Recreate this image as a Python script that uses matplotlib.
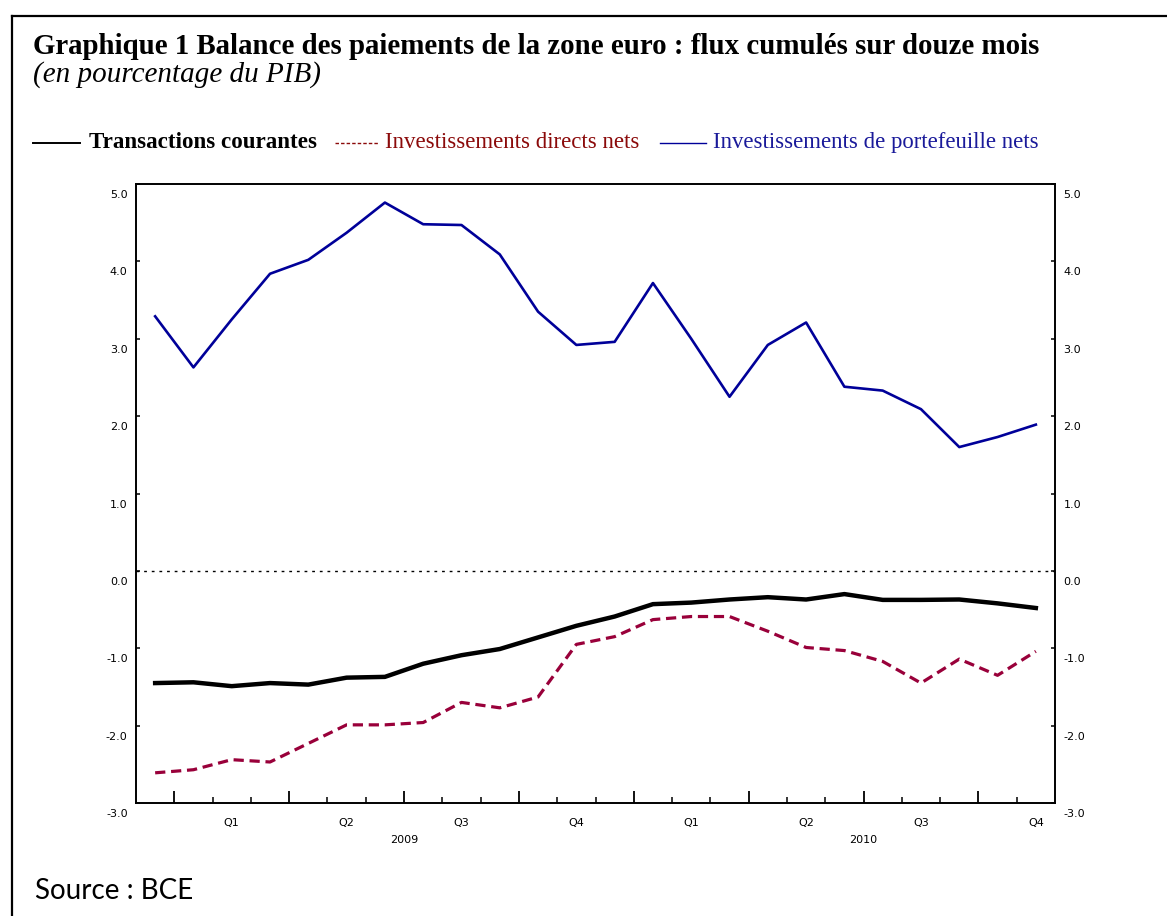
import matplotlib
matplotlib.use("Agg")
import matplotlib.pyplot as plt
from matplotlib.lines import Line2D
from matplotlib.transforms import ScaledTranslation
import numpy as np

# ---------------- data ----------------
months = ["2008-12", "2009-01", "2009-02", "2009-03", "2009-04", "2009-05",
          "2009-06", "2009-07", "2009-08", "2009-09", "2009-10", "2009-11",
          "2009-12", "2010-01", "2010-02", "2010-03", "2010-04", "2010-05",
          "2010-06", "2010-07", "2010-08", "2010-09", "2010-10", "2010-11"]

transactions_courantes = [-1.45, -1.44, -1.49, -1.45, -1.47, -1.38, -1.37, -1.20,
                          -1.09, -1.01, -0.86, -0.71, -0.59, -0.43, -0.41, -0.37,
                          -0.34, -0.37, -0.30, -0.375, -0.375, -0.37, -0.42, -0.48]

investissements_directs = [-2.61, -2.57, -2.44, -2.47, -2.23, -1.99, -1.99, -1.96,
                           -1.70, -1.77, -1.63, -0.95, -0.85, -0.63, -0.59, -0.59,
                           -0.78, -0.99, -1.03, -1.17, -1.45, -1.14, -1.35, -1.04]

investissements_portefeuille = [3.29, 2.63, 3.25, 3.84, 4.02, 4.37, 4.76, 4.48,
                                4.47, 4.09, 3.35, 2.92, 2.96, 3.72, 3.00, 2.25,
                                2.92, 3.21, 2.38, 2.33, 2.09, 1.60, 1.73, 1.89]

quarter_labels = ["Q1", "Q2", "Q3", "Q4", "Q1", "Q2", "Q3", "Q4"]
year_labels = ["2009", "2010"]
y_ticks = [-3.0, -2.0, -1.0, 0.0, 1.0, 2.0, 3.0, 4.0, 5.0]

title = "Graphique 1 Balance des paiements de la zone euro : flux cumulés sur douze mois"
subtitle = "(en pourcentage du PIB)"
legend_labels = ["Transactions courantes", "Investissements directs nets",
                 "Investissements de portefeuille nets"]
source = "Source : BCE"

# ---------------- figure ----------------
W, H = 1167, 916
fig = plt.figure(figsize=(W / 100, H / 100), dpi=100)
fig.patch.set_facecolor("white")

def fx(px):
    return px / W

def fy(py):
    return 1 - py / H

BLACK = "#000000"
RED = "#99003a"
RED_TXT = "#8b0a0a"
BLUE = "#000099"
BLUE_TXT = "#1a1a9a"

# frame (left and top)
fig.add_artist(Line2D([fx(12), fx(12)], [0, fy(16)], color="black", lw=1.6))
fig.add_artist(Line2D([fx(12), 1], [fy(16), fy(16)], color="black", lw=1.6))

ax = fig.add_axes([fx(136), fy(803), fx(1055) - fx(136), fy(184) - fy(803)])

n = len(months)
x = np.arange(n) + 0.5

ax.plot(x, investissements_portefeuille, color=BLUE, lw=1.9)
ax.plot(x, investissements_directs, color=RED, lw=2.3, dashes=(3.2, 1.8))
ax.plot(x, transactions_courantes, color=BLACK, lw=3.2)
ax.axhline(0, color="black", lw=1.0, dashes=(2, 3.5))

ax.set_xlim(0, n)
ax.set_ylim(-3, 5)

# x ticks: quarter boundaries (major) and months (minor)
ax.set_xticks(np.arange(1, n, 3))
ax.set_xticks(np.arange(1, n), minor=True)
ax.tick_params(axis="x", which="major", direction="in", length=9, width=1.3,
               labelbottom=False)
ax.tick_params(axis="x", which="minor", direction="in", length=4, width=1.1)

# y ticks on both sides
ax.set_yticks(y_ticks)
ax.set_yticklabels([f"{v:.1f}" for v in y_ticks])
ax.tick_params(axis="y", which="both", direction="in", length=3, width=1.1,
               left=True, right=True, labelleft=True, labelright=True,
               labelsize=8, pad=6)
for lab in ax.get_yticklabels() + ax.yaxis.get_ticklabels(which="major"):
    pass
for t in ax.yaxis.get_major_ticks():
    for lab in (t.label1, t.label2):
        lab.set_transform(lab.get_transform() + ScaledTranslation(0, -0.10, fig.dpi_scale_trans))

for s in ax.spines.values():
    s.set_linewidth(1.4)

# quarter & year labels
qcenters = np.arange(2.5, n, 3)
for xc, q in zip(qcenters, quarter_labels):
    ax.text(xc, -0.025, q, transform=ax.get_xaxis_transform(), ha="center", va="top",
            fontsize=8, family="DejaVu Sans")
ycenters = [7, 19]
for xc, yl in zip(ycenters, year_labels):
    ax.text(xc, -0.052, yl, transform=ax.get_xaxis_transform(), ha="center", va="top",
            fontsize=8, family="DejaVu Sans")

# ---------------- texts ----------------
serif = "Liberation Serif"
t_title = fig.text(fx(33), fy(54), title, family=serif, weight="bold", fontsize=20,
                   ha="left", va="baseline")
t_sub = fig.text(fx(33), fy(82), subtitle, family=serif, style="italic", fontsize=17,
                 ha="left", va="baseline")

leg_y = 148
fig.add_artist(Line2D([fx(33), fx(80)], [fy(143), fy(143)], color=BLACK, lw=1.4))
t_l1 = fig.text(fx(89), fy(leg_y), legend_labels[0], family=serif, weight="bold",
                fontsize=14, ha="left", va="baseline", color=BLACK)
fig.add_artist(Line2D([fx(335), fx(379)], [fy(143), fy(143)], color=RED_TXT, lw=1.0,
                      dashes=(2.5, 1.5)))
t_l2 = fig.text(fx(385), fy(leg_y), legend_labels[1], family=serif, fontsize=14,
                ha="left", va="baseline", color=RED_TXT)
fig.add_artist(Line2D([fx(660), fx(706)], [fy(143), fy(143)], color=BLUE, lw=1.0))
t_l3 = fig.text(fx(713), fy(leg_y), legend_labels[2], family=serif, fontsize=14,
                ha="left", va="baseline", color=BLUE_TXT)

t_src = fig.text(fx(35), fy(899), source, family="Lato", fontsize=15,
                 ha="left", va="baseline")

# fit widths to the reference
fig.canvas.draw()
r = fig.canvas.get_renderer()
def fit(t, width_px):
    bb = t.get_window_extent(r)
    t.set_fontsize(t.get_fontsize() * width_px / bb.width)

fit(t_title, 1005)
fit(t_sub, 289)
fit(t_l1, 228)
fit(t_l2, 257)
fit(t_l3, 326)
fit(t_src, 158)

fig.savefig("out.png", dpi=100, facecolor="white")
